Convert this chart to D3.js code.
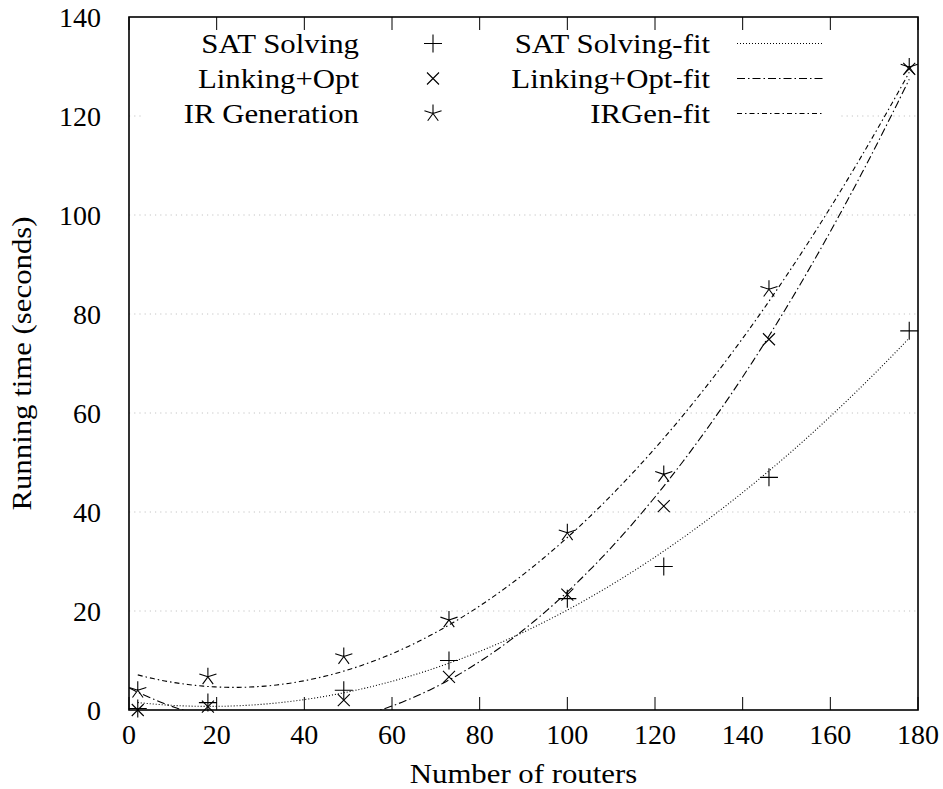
<!DOCTYPE html>
<html><head><meta charset="utf-8">
<script src="https://cdn.jsdelivr.net/npm/d3@7"></script>
<style>body{margin:0;background:#fff}</style>
</head><body>
<svg id="c" width="943" height="789"></svg>
<script>
// ---- data ----
const routers      = [2, 18, 49, 73, 100, 122, 146, 178];
const satSolving   = [0.3, 1.5, 4.0, 10.0, 22.5, 29.0, 47.0, 76.6];
const linkingOpt   = [0.0, 0.7, 2.0, 6.7, 23.3, 41.2, 74.9, 129.5];
const irGeneration = [4.0, 6.7, 10.8, 18.2, 35.8, 47.6, 85.0, 129.9];
const seriesNames  = ["SAT Solving", "Linking+Opt", "IR Generation"];
const fitNames     = ["SAT Solving-fit", "Linking+Opt-fit", "IRGen-fit"];
const xTicks = [0, 20, 40, 60, 80, 100, 120, 140, 160, 180];
const yTicks = [0, 20, 40, 60, 80, 100, 120, 140];
const xLabel = "Number of routers";
const yLabel = "Running time (seconds)";

// ---- layout ----
const L = 129, R = 918, T = 17, B = 710;
const svg = d3.select("#c");
const x = d3.scaleLinear().domain([0, 180]).range([L, R]);
const y = d3.scaleLinear().domain([0, 140]).range([B, T]);
const WIDEN = 1.1;
function txt(g){ return g.append("text").style("font-family", '"Liberation Serif"').style("font-size", "28px").attr("fill","#000"); }
// wider text (Palatino-like proportions) through a horizontal scale
function wideText(g, tx, ty, anchor, s, rot){
  return txt(g).attr("transform", `translate(${tx},${ty})${rot?` rotate(${rot})`:""} scale(${WIDEN},1)`)
    .attr("text-anchor", anchor).text(s);
}

svg.append("defs").append("clipPath").attr("id","clip")
  .append("rect").attr("x",L).attr("y",T).attr("width",R-L).attr("height",B-T);

// grid
svg.append("g").selectAll("line").data(yTicks.filter(v=>v>0 && v<140)).join("line")
  .attr("x1",L).attr("x2",R).attr("y1",d=>y(d)).attr("y2",d=>y(d))
  .attr("stroke","#c4c4c4").attr("stroke-width",1).attr("stroke-dasharray","1.2,4");

// legend background
svg.append("rect").attr("x",143).attr("y",T+1).attr("width",697).attr("height",118).attr("fill","#fff");

// quadratic least-squares fit of each series
function quadFit(xs, ys){
  let S=[0,0,0,0,0], Ty=[0,0,0];
  xs.forEach((xv,i)=>{ for(let k=0;k<5;k++) S[k]+=Math.pow(xv,k); for(let k=0;k<3;k++) Ty[k]+=ys[i]*Math.pow(xv,k); });
  const A=[[S[0],S[1],S[2],Ty[0]],[S[1],S[2],S[3],Ty[1]],[S[2],S[3],S[4],Ty[2]]];
  for(let i=0;i<3;i++){ for(let j=i+1;j<3;j++){ const f=A[j][i]/A[i][i]; for(let k=i;k<4;k++) A[j][k]-=f*A[i][k]; } }
  const c=[0,0,0];
  for(let i=2;i>=0;i--){ let s=A[i][3]; for(let k=i+1;k<3;k++) s-=A[i][k]*c[k]; c[i]=s/A[i][i]; }
  return xv=>c[0]+c[1]*xv+c[2]*xv*xv;
}
const seriesVals = [satSolving, linkingOpt, irGeneration];
const fitDash = ["1,2", "8,3,1.5,3", "5,3,1.5,3"];
const fitRange = [[2,178],[0,178],[2,178]];
const line = d3.line().x(d=>x(d[0])).y(d=>y(d[1]));
const fits = seriesVals.map(v=>quadFit(routers, v));
const gF = svg.append("g").attr("clip-path","url(#clip)");
fits.forEach((f,i)=>{
  const pts = d3.range(0,201).map(k=>{ const xv=fitRange[i][0]+(fitRange[i][1]-fitRange[i][0])*k/200; return [xv,f(xv)]; });
  gF.append("path").attr("d",line(pts)).attr("fill","none").attr("stroke","#000")
    .attr("stroke-width",1.1).attr("stroke-dasharray",fitDash[i]);
});

// markers
const a = 9;
const star = (()=>{ let s=""; [0,72,144,-72,-144].forEach(t=>{ const r=t*Math.PI/180; s+=`M0,0L${(a*Math.sin(r)).toFixed(2)},${(-a*Math.cos(r)).toFixed(2)}`; }); return s; })();
const markerPaths = [`M-9,0H9M0,-9V9`, `M-6,-6L6,6M-6,6L6,-6`, star];
seriesVals.forEach((vals,i)=>{
  svg.append("g").selectAll("path").data(routers.map((r,j)=>[r,vals[j]])).join("path")
    .attr("transform",d=>`translate(${x(d[0])},${y(d[1])})`)
    .attr("d",markerPaths[i]).attr("fill","none").attr("stroke","#000").attr("stroke-width",1.1);
});

// legend
const rowY = [43.5, 78.5, 113.5];
seriesNames.forEach((n,i)=>{
  wideText(svg, 359, rowY[i]+9.5, "end", n);
  svg.append("path").attr("transform",`translate(433,${rowY[i]})`).attr("d",markerPaths[i])
    .attr("fill","none").attr("stroke","#000").attr("stroke-width",1.1);
});
fitNames.forEach((n,i)=>{
  wideText(svg, 710, rowY[i]+9.5, "end", n);
  svg.append("line").attr("x1",737).attr("x2",823).attr("y1",rowY[i]).attr("y2",rowY[i])
    .attr("stroke","#000").attr("stroke-width",1.1).attr("stroke-dasharray",fitDash[i]);
});

// x ticks (bottom up, top down)
const gT = svg.append("g");
xTicks.forEach(v=>{
  gT.append("line").attr("x1",x(v)).attr("x2",x(v)).attr("y1",B).attr("y2",B-13).attr("stroke","#000").attr("stroke-width",1);
  gT.append("line").attr("x1",x(v)).attr("x2",x(v)).attr("y1",T).attr("y2",T+13).attr("stroke","#000").attr("stroke-width",1);
});
const gxl = svg.append("g");
xTicks.forEach(v=>{ txt(gxl).attr("x",x(v)).attr("y",744).attr("text-anchor","middle").text(v); });
const gyl = svg.append("g");
yTicks.forEach(v=>{ txt(gyl).attr("x",101).attr("y",y(v)+9.5).attr("text-anchor","end").text(v); });

// frame
svg.append("rect").attr("x",L).attr("y",T).attr("width",R-L).attr("height",B-T)
  .attr("fill","none").attr("stroke","#000").attr("stroke-width",1.6);

// axis titles
wideText(svg, (L+R)/2, 783, "middle", xLabel);
wideText(svg, 31, (T+B)/2, "middle", yLabel, -90);
</script>
</body></html>
